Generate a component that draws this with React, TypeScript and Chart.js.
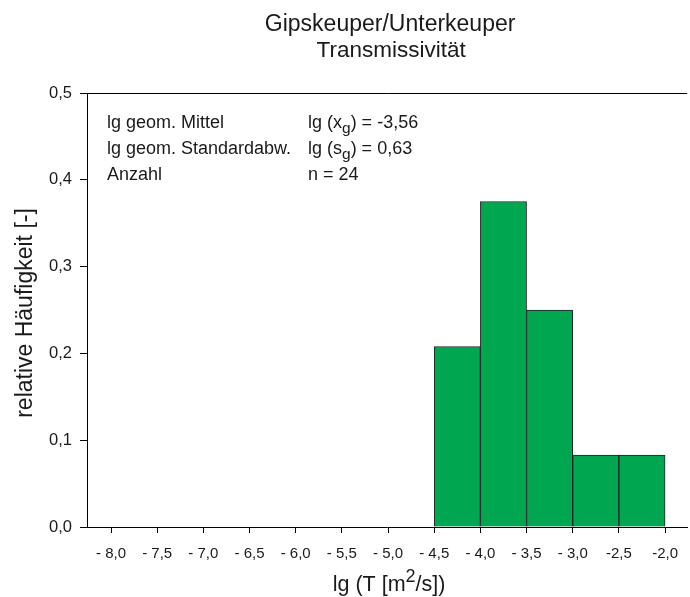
import React, { useEffect, useRef } from "react";
import { Chart, registerables } from "chart.js";

Chart.register(...registerables);

const binCenters = [-4.25, -3.75, -3.25, -2.75, -2.25];
const frequencies = [0.208, 0.375, 0.25, 0.083, 0.083];
const xTickValues = [-8.0, -7.5, -7.0, -6.5, -6.0, -5.5, -5.0, -4.5, -4.0, -3.5, -3.0, -2.5, -2.0];
const xTickLabels = ["- 8,0", "- 7,5", "- 7,0", "- 6,5", "- 6,0", "- 5,5", "- 5,0", "- 4,5", "- 4,0", "- 3,5", "- 3,0", "-2,5", "-2,0"];
const yTickValues = [0, 0.1, 0.2, 0.3, 0.4, 0.5];
const yTickLabels = ["0,0", "0,1", "0,2", "0,3", "0,4", "0,5"];
const titleLine1 = "Gipskeuper/Unterkeuper";
const titleLine2 = "Transmissivität";
const yTitle = "relative Häufigkeit [-]";
const statLabels = ["lg geom. Mittel", "lg geom. Standardabw.", "Anzahl"];
const statValues = [
  [{ t: "lg (x" }, { t: "g", sub: true }, { t: ") = -3,56" }],
  [{ t: "lg (s" }, { t: "g", sub: true }, { t: ") = 0,63" }],
  [{ t: "n = 24" }],
];
const xTitleParts = [{ t: "lg (T [m" }, { t: "2", sup: true }, { t: "/s])" }];

const FONT = '"Liberation Sans", Arial, sans-serif';

type Part = { t: string; sub?: boolean; sup?: boolean };

function drawRich(
  ctx: CanvasRenderingContext2D,
  parts: Part[],
  x: number,
  y: number,
  size: number,
  smallSize: number,
  shift: number,
  align: "left" | "center"
) {
  const widths = parts.map((p) => {
    ctx.font = `${p.sub || p.sup ? smallSize : size}px ${FONT}`;
    return ctx.measureText(p.t).width;
  });
  const total = widths.reduce((a, b) => a + b, 0);
  let cx = align === "center" ? x - total / 2 : x;
  ctx.textAlign = "left";
  ctx.textBaseline = "alphabetic";
  parts.forEach((p, i) => {
    ctx.font = `${p.sub || p.sup ? smallSize : size}px ${FONT}`;
    const dy = p.sub ? shift : p.sup ? -shift : 0;
    ctx.fillText(p.t, cx, y + dy);
    cx += widths[i];
  });
}

const textPlugin = {
  id: "texts",
  afterDraw(chart: any) {
    const { ctx, chartArea } = chart;
    const cx = (chartArea.left + chartArea.right) / 2;
    ctx.save();
    ctx.strokeStyle = "#000";
    ctx.lineWidth = 1;
    ctx.beginPath();
    ctx.moveTo(chartArea.left, chartArea.top + 0.5);
    ctx.lineTo(chartArea.right, chartArea.top + 0.5);
    ctx.stroke();

    ctx.fillStyle = "#1a1a1a";
    ctx.textAlign = "center";
    ctx.textBaseline = "alphabetic";
    ctx.font = `23px ${FONT}`;
    ctx.fillText(titleLine1, cx + 3, 31);
    ctx.font = `22.5px ${FONT}`;
    ctx.fillText(titleLine2, cx + 4, 57);

    const rows = [128, 154, 180];
    statLabels.forEach((s, i) => {
      ctx.textAlign = "left";
      ctx.font = `18px ${FONT}`;
      ctx.fillText(s, 107, rows[i]);
      drawRich(ctx, statValues[i], 308, rows[i], 18, 15.5, 5, "left");
    });

    drawRich(ctx, xTitleParts, cx + 2, 591, 21.5, 18, 9, "center");

    ctx.save();
    ctx.translate(32, 313);
    ctx.rotate(-Math.PI / 2);
    ctx.textAlign = "center";
    ctx.textBaseline = "alphabetic";
    ctx.font = `23px ${FONT}`;
    ctx.fillText(yTitle, 0, 0);
    ctx.restore();
    ctx.restore();
  },
};

export default function App() {
  const ref = useRef<HTMLCanvasElement>(null);
  useEffect(() => {
    document.body.style.margin = "0";
    const chart = new Chart(ref.current!, {
      type: "bar",
      data: {
        datasets: [
          {
            data: binCenters.map((x, i) => ({ x, y: frequencies[i] })),
            backgroundColor: "#00A650",
            borderColor: "#222",
            borderWidth: 1,
            barPercentage: 1,
            categoryPercentage: 1,
          },
        ],
      },
      options: {
        responsive: false,
        animation: false,
        layout: { padding: { top: 93, left: 0, right: 0, bottom: 0 } },
        plugins: { legend: { display: false }, tooltip: { enabled: false }, title: { display: false } },
        scales: {
          x: {
            type: "linear",
            offset: false,
            min: -8.26,
            max: -1.76,
            afterBuildTicks: (axis: any) => {
              axis.ticks = xTickValues.map((v) => ({ value: v }));
            },
            afterFit: (scale: any) => {
              scale.height = 70;
            },
            grid: { offset: false, drawOnChartArea: false, drawTicks: true, tickLength: 6, color: "#000" },
            border: { display: true, color: "#000", width: 1 },
            ticks: {
              padding: 12,
              color: "#1a1a1a",
              font: { family: FONT, size: 15 },
              maxRotation: 0,
              autoSkip: false,
              callback: (v: any) => {
                const i = xTickValues.findIndex((t) => Math.abs(t - v) < 1e-6);
                return i >= 0 ? xTickLabels[i] : "";
              },
            },
          },
          y: {
            min: 0,
            max: 0.5,
            afterBuildTicks: (axis: any) => {
              axis.ticks = yTickValues.map((v) => ({ value: v }));
            },
            afterFit: (scale: any) => {
              scale.width = 87;
            },
            grid: { drawOnChartArea: false, drawTicks: true, tickLength: 7, color: "#000" },
            border: { display: true, color: "#000", width: 1 },
            ticks: {
              padding: 8,
              color: "#1a1a1a",
              font: { family: FONT, size: 16.5 },
              callback: (v: any) => {
                const i = yTickValues.findIndex((t) => Math.abs(t - v) < 1e-6);
                return i >= 0 ? yTickLabels[i] : "";
              },
            },
          },
        },
      },
      plugins: [textPlugin],
    } as any);
    return () => chart.destroy();
  }, []);
  return <canvas ref={ref} width={690} height={597} style={{ display: "block", width: 690, height: 597 }} />;
}
